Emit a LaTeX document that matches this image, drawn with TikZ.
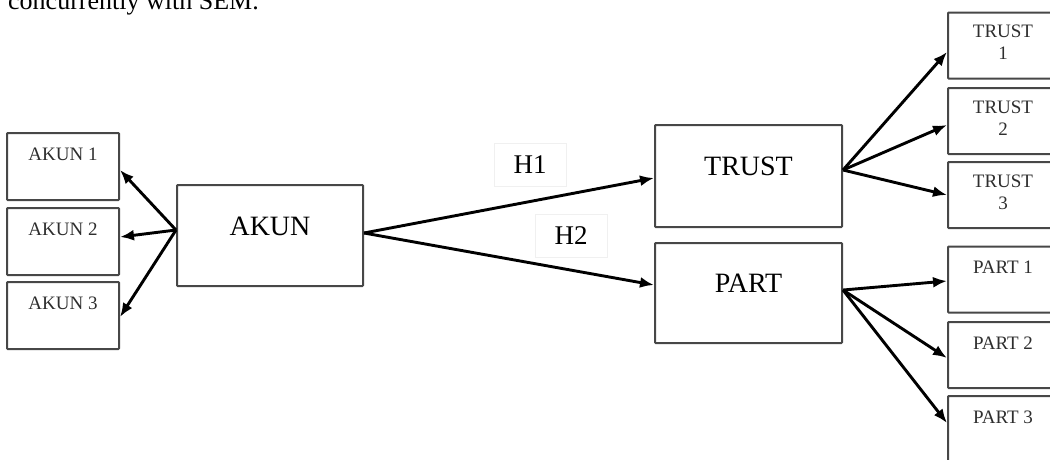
\documentclass[tikz,border=0pt]{standalone}
\usepackage{fontspec}
\setmainfont{Liberation Serif}
\usetikzlibrary{arrows.meta,calc}
\begin{document}
\begin{tikzpicture}[x=1pt,y=-1pt,
  box/.style={draw=black!72, line width=2pt, rectangle, inner sep=0pt, rounded corners=0.8pt},
  lbox/.style={box, minimum width=112pt, minimum height=67pt},
  rbox/.style={box, minimum width=110pt, minimum height=66pt},
  bigbox/.style={box, minimum width=187pt, minimum height=101pt},
  lbl/.style={inner sep=0pt, anchor=north, font=\fontsize{19}{22}\selectfont, align=center, text=black!82},
  biglbl/.style={inner sep=0pt, anchor=base, font=\fontsize{28}{32}\selectfont},
  hbox/.style={draw=black!6, line width=0.8pt, minimum width=72pt, minimum height=43pt, inner sep=0pt, font=\fontsize{27}{30}\selectfont},
  arr/.style={line width=2.9pt, -{Latex[length=14pt,width=11pt]}}
]
\useasboundingbox (0,0) rectangle (1050,459);
\clip (0,0) rectangle (1050,459);

% cut-off caption line at the top
\node[inner sep=0pt, anchor=base west, font=\fontsize{26}{30}\selectfont] (cap) at (8,9.3) {concurrently with SEM.};

% left indicator boxes
\node[lbox] (a1) at (63,166.5) {};
\node[lbox] (a2) at (63,241.5) {};
\node[lbox] (a3) at (63,315.5) {};
\node[lbl] (a1t) at ([yshift=-16pt]a1.north) {AKUN 1};
\node[lbl] (a2t) at ([yshift=-16pt]a2.north) {AKUN 2};
\node[lbl] (a3t) at ([yshift=-16pt]a3.north) {AKUN 3};

% constructs
\node[bigbox, minimum width=186pt] (akun) at (270,235.5) {};
\node[biglbl] (akunt) at (akun.center) {AKUN};
\node[bigbox, minimum height=102pt] (trust) at (748.5,176) {};
\node[biglbl] (trustt) at ([yshift=1pt]trust.center) {TRUST};
\node[bigbox, minimum height=100pt] (part) at (748.5,293) {};
\node[biglbl] (partt) at ([yshift=1pt]part.center) {PART};

% right indicator boxes
\node[rbox] (t1) at (1003,45.5) {};
\node[rbox] (t2) at (1003,121) {};
\node[rbox] (t3) at (1003,195) {};
\node[rbox] (p1) at (1003,279.5) {};
\node[rbox] (p2) at (1003,355) {};
\node[rbox] (p3) at (1003,429) {};
\node[lbl] (t1t) at ([yshift=-13.4pt]t1.north) {TRUST\\1};
\node[lbl] (t2t) at ([yshift=-13.4pt]t2.north) {TRUST\\2};
\node[lbl] (t3t) at ([yshift=-13.4pt]t3.north) {TRUST\\3};
\node[lbl] (p1t) at ([yshift=-15.4pt]p1.north) {PART 1};
\node[lbl] (p2t) at ([yshift=-15.4pt]p2.north) {PART 2};
\node[lbl] (p3t) at ([yshift=-15.4pt]p3.north) {PART 3};

% hypothesis labels
\node[hbox] (h1) at (530,165) {H1};
\node[hbox] (h2) at (571,236) {H2};

% arrows from AKUN to its indicators
\draw[arr] ([yshift=5.5pt]akun.west) -- ([yshift=-3.5pt]a1.east);
\draw[arr] ([yshift=5.5pt]akun.west) -- ([yshift=4.5pt]a2.east);
\draw[arr] ([yshift=5.5pt]akun.west) -- ([yshift=-1.5pt]a3.east);

% structural paths
\draw[arr] ([yshift=2.5pt]akun.east) -- ([yshift=-2pt]trust.west);
\draw[arr] ([yshift=2.5pt]akun.east) -- ([yshift=8pt]part.west);

% TRUST indicators
\draw[arr] ([yshift=6pt]trust.east) -- ([yshift=-6.5pt]t1.west);
\draw[arr] ([yshift=6pt]trust.east) -- ([yshift=-4pt]t2.west);
\draw[arr] ([yshift=6pt]trust.east) -- (t3.west);

% PART indicators
\draw[arr] ([yshift=3pt]part.east) -- ([yshift=-1.5pt]p1.west);
\draw[arr] ([yshift=3pt]part.east) -- ([yshift=-3pt]p2.west);
\draw[arr] ([yshift=3pt]part.east) -- ([yshift=6pt]p3.west);
\end{tikzpicture}
\end{document}
